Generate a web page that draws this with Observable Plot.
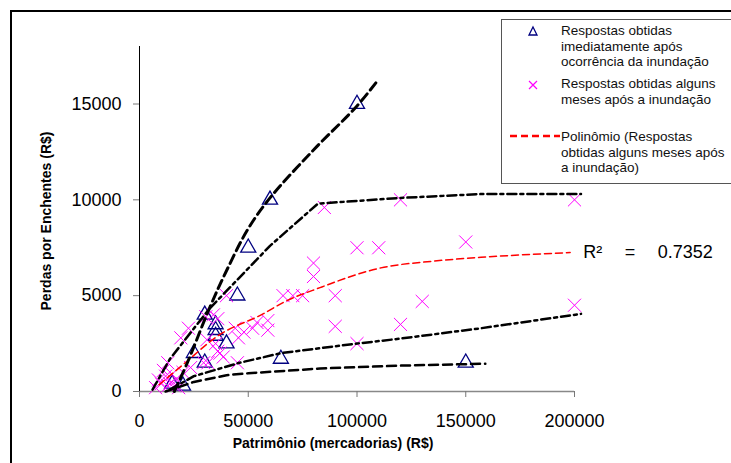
<!DOCTYPE html>
<html><head><meta charset="utf-8">
<script src="https://cdn.jsdelivr.net/npm/d3@7"></script>
<script src="https://cdn.jsdelivr.net/npm/@observablehq/plot@0.6"></script>
<style>
html,body{margin:0;padding:0;background:#fff;}
#wrap{position:relative;width:731px;height:463px;overflow:hidden;font-family:"Liberation Sans",Arial,sans-serif;}
#chart{position:absolute;left:0;top:0;}
#frame{position:absolute;left:10px;top:10px;width:800px;height:600px;border:2px solid #000;box-sizing:border-box;pointer-events:none;}
#legend{position:absolute;left:501px;top:19px;width:260px;height:165px;border:1px solid #555;background:#fff;box-sizing:border-box;}
.lg{position:absolute;left:59px;font-size:13.5px;line-height:15.5px;color:#111;white-space:nowrap;}
.sym{position:absolute;}
#ytitle{position:absolute;left:46px;top:221px;transform:translate(-50%,-50%) rotate(-90deg);font-size:14px;font-weight:bold;white-space:nowrap;color:#000;}
</style></head><body>
<div id="wrap">
  <div id="chart"></div>
  <div id="ytitle">Perdas por Enchentes (R$)</div>
  <div id="frame"></div>
  <div id="legend">
    <svg class="sym" style="left:24px;top:5px" width="14" height="14"><path d="M7,2 L11,10 L3,10 Z" fill="none" stroke="#000080" stroke-width="1.3"/></svg>
    <div class="lg" style="top:3px">Respostas obtidas<br>imediatamente após<br>ocorrência da inundação</div>
    <svg class="sym" style="left:24px;top:58px" width="14" height="14"><path d="M3,3 L11,11 M3,11 L11,3" stroke="#FF00FF" stroke-width="1.2"/></svg>
    <div class="lg" style="top:56px">Respostas obtidas alguns<br>meses após a inundação</div>
    <svg class="sym" style="left:8px;top:112px" width="52" height="8"><line x1="0" y1="4" x2="50" y2="4" stroke="#FF0000" stroke-width="2.5" stroke-dasharray="7,4"/></svg>
    <div class="lg" style="top:109px">Polinômio (Respostas<br>obtidas alguns meses após<br>a inundação)</div>
  </div>
</div>
<script>
// Axis ticks
const xTicks = [0, 50000, 100000, 150000, 200000];
const yTicks = [0, 5000, 10000, 15000];

// Respostas obtidas imediatamente após ocorrência da inundação (triangles)
const triX = [100000, 60000, 50000, 45000, 30000, 35000, 35000, 35000, 40000, 25000, 30000, 65000, 150000, 20000, 15000];
const triY = [15000, 10000, 7500, 5000, 4000, 3500, 3200, 2900, 2500, 2000, 1500, 1700, 1500, 300, 400];

// Respostas obtidas alguns meses após a inundação (crosses)
const crossX = [200000, 120000, 85000, 100000, 110000, 150000, 80000, 80000, 66000, 70500, 75000, 90000, 40000, 130000, 200000, 90000, 120000, 100000,
  59000, 59000, 54000, 52000, 48000, 44000, 45500, 35000, 37000, 45000, 31500, 34000, 31000, 36000, 22500, 19000, 36000, 38500, 29500, 23500, 30500,
  13000, 11000, 8700, 7400, 12000, 14000, 15000, 16000, 17000, 18000, 13000, 20000, 10000];
const crossY = [10000, 10000, 9600, 7500, 7500, 7800, 6700, 6000, 5000, 5000, 5000, 5000, 5000, 4700, 4500, 3400, 3500, 2500,
  3700, 3200, 3600, 3300, 3100, 3300, 2800, 2500, 2000, 1500, 1500, 4000, 2700, 3800, 3300, 2800, 2100, 1800, 1500, 1250, 3900,
  1500, 1100, 600, 200, 800, 400, 900, 300, 600, 200, 300, 1000, 400];

// Polinômio (trend line)
const trendX = [9000, 20000, 36000, 57000, 66000, 83000, 111000, 135000, 157000, 198000];
const trendY = [350, 1400, 2900, 4060, 4640, 5420, 6450, 6800, 7000, 7250];
const r2Text = "R\u00B2\u2003\u2005=\u2003\u20050.7352";

// Envelope lines (black)
const upperDashX = [16000, 22000, 32000, 40000, 50000, 60000, 80000, 100000, 110000];
const upperDashY = [0, 1500, 4300, 6300, 8500, 10100, 12600, 14900, 16300];
const upperDotX = [6000, 14000, 32000, 60000, 82000, 120000, 157000, 203000];
const upperDotY = [100, 1700, 4300, 7600, 9800, 10100, 10300, 10300];
const lowerDotX = [14000, 25000, 46000, 65000, 100000, 120000, 157000, 203000];
const lowerDotY = [100, 800, 1500, 2000, 2500, 2760, 3300, 4050];
const lowerDashX = [12000, 25000, 40000, 50000, 83000, 120000, 159000];
const lowerDashY = [0, 500, 850, 950, 1200, 1350, 1450];

const pts = (xs, ys) => xs.map((x, i) => ({x, y: ys[i]}));

const chart = Plot.plot({
  width: 731, height: 463,
  marginLeft: 139, marginRight: 157, marginTop: 46, marginBottom: 72,
  x: {domain: [0, 200000]},
  y: {domain: [0, 18000]},
  style: {fontFamily: '"Liberation Sans", Arial, sans-serif', background: "transparent", overflow: "visible", color: "#000"},
  marks: [
    Plot.ruleY([0], {stroke: "#888", strokeWidth: 1.5}),
    Plot.ruleX([0], {stroke: "#000", strokeWidth: 1}),
    Plot.axisX({ticks: xTicks, tickSize: 6, tickPadding: 17, fontSize: 18, stroke: "#777", label: null, tickFormat: d => String(d)}),
    Plot.axisY({ticks: yTicks, tickSize: 6, tickPadding: 12, fontSize: 18, stroke: "#777", label: null, tickFormat: d => String(d)}),
    Plot.text(["Patrimônio (mercadorias) (R$)"], {frameAnchor: "bottom", dy: 56, dx: -24, fontSize: 14, fontWeight: "bold"}),
    Plot.dot(pts(triX, triY), {x: "x", y: "y", symbol: "triangle", r: 5.6, stroke: "#000080", strokeWidth: 1.3, fill: "none"}),
    Plot.dot(pts(crossX, crossY), {x: "x", y: "y", symbol: "times", r: 6, stroke: "#FF00FF", strokeWidth: 1}),
    Plot.line(pts(trendX, trendY), {x: "x", y: "y", stroke: "#FF0000", strokeWidth: 1.5, strokeDasharray: "7,4", curve: "monotone-x"}),
    Plot.line(pts(upperDashX, upperDashY), {x: "x", y: "y", stroke: "#000", strokeWidth: 3, strokeDasharray: "9,5", curve: "catmull-rom"}),
    Plot.line(pts(upperDotX, upperDotY), {x: "x", y: "y", stroke: "#000", strokeWidth: 2.5, strokeDasharray: "9,4,3,4"}),
    Plot.line(pts(lowerDotX, lowerDotY), {x: "x", y: "y", stroke: "#000", strokeWidth: 2.5, strokeDasharray: "9,4,3,4"}),
    Plot.line(pts(lowerDashX, lowerDashY), {x: "x", y: "y", stroke: "#000", strokeWidth: 2.5, strokeDasharray: "9,5"}),
    Plot.text([trendX.length - 1], {x: i => trendX[i], y: i => trendY[i], text: () => r2Text, dx: 13, textAnchor: "start", fontSize: 18})
  ]
});
document.getElementById("chart").appendChild(chart);
</script>
</body></html>
